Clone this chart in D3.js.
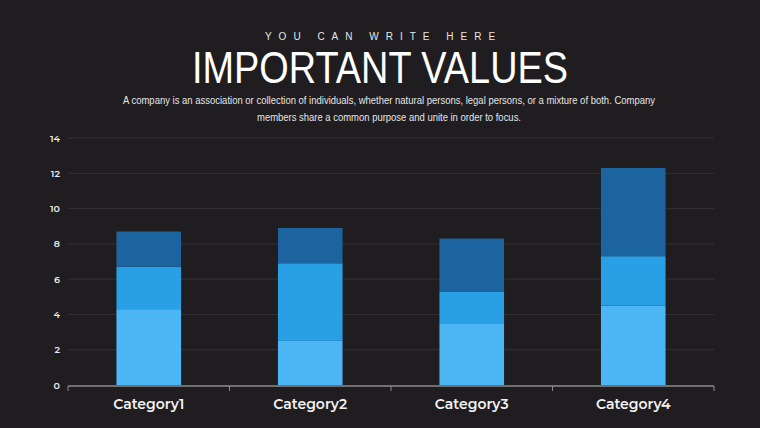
<!DOCTYPE html>
<html>
<head>
<meta charset="utf-8">
<script src="https://cdn.jsdelivr.net/npm/d3@7"></script>
<style>
	html, body { margin: 0; padding: 0; background: #1f1d20; }
	#chart { width: 760px; height: 428px; }
</style>
</head>
<body>
<div id="chart"></div>
<script>
// Datos del gráfico
const categories = ['Category1', 'Category2', 'Category3', 'Category4'];
const seriesNames = ['Series1', 'Series2', 'Series3'];
const series1 = [4.3, 2.5, 3.5, 4.5];
const series2 = [2.4, 4.4, 1.8, 2.8];
const series3 = [2.0, 2.0, 3.0, 5.0];
const yTicks = [0, 2, 4, 6, 8, 10, 12, 14];
const colors = ['#4db6f4', '#29a0e6', '#1b64a0'];

const W = 760;
const H = 428;
const margin = { top: 138, right: 46, bottom: 43, left: 68 };
const width = W - margin.left - margin.right;
const height = H - margin.top - margin.bottom;

const root = d3
	.select('#chart')
	.append('svg')
	.attr('width', W)
	.attr('height', H);

root.append('rect').attr('width', W).attr('height', H).attr('fill', '#1f1d20');

// Encabezado
root
	.append('text')
	.attr('x', 383.5)
	.attr('y', 40)
	.attr('text-anchor', 'middle')
	.attr('fill', '#e6e6e6')
	.style('font-family', 'Liberation Sans, Arial, sans-serif')
	.style('font-size', '10px')
	.style('letter-spacing', '7px')
	.text('YOU CAN WRITE HERE');

root
	.append('text')
	.attr('x', 380)
	.attr('y', 83)
	.attr('text-anchor', 'middle')
	.attr('fill', '#ffffff')
	.attr('textLength', 376)
	.attr('lengthAdjust', 'spacingAndGlyphs')
	.style('font-family', 'Liberation Sans Narrow, Liberation Sans, Arial, sans-serif')
	.style('font-size', '44px')
	.text('IMPORTANT VALUES');

const desc = [
	{ t: 'A company is an association or collection of individuals, whether natural persons, legal persons, or a mixture of both. Company', y: 104, w: 532 },
	{ t: 'members share a common purpose and unite in order to focus.', y: 121, w: 264 },
];
root
	.selectAll('text.desc')
	.data(desc)
	.enter()
	.append('text')
	.attr('class', 'desc')
	.attr('x', 389)
	.attr('y', (d) => d.y)
	.attr('text-anchor', 'middle')
	.attr('fill', '#e6e6e6')
	.attr('textLength', (d) => d.w)
	.attr('lengthAdjust', 'spacingAndGlyphs')
	.style('font-family', 'Liberation Sans Narrow, Liberation Sans, Arial, sans-serif')
	.style('font-size', '10.5px')
	.text((d) => d.t);

const svg = root.append('g').attr('transform', `translate(${margin.left},${margin.top})`);

// Escalas
const x = d3.scaleBand().domain(categories).range([0, width]).paddingInner(0.6).paddingOuter(0.3);
const y = d3.scaleLinear().domain([0, 14]).range([height, 0]);

// Líneas de la cuadrícula
svg
	.selectAll('line.grid')
	.data(yTicks.filter((d) => d > 0))
	.enter()
	.append('line')
	.attr('class', 'grid')
	.attr('x1', 0)
	.attr('x2', width)
	.attr('y1', (d) => y(d))
	.attr('y2', (d) => y(d))
	.attr('stroke', '#343236')
	.attr('stroke-width', 1);

// Barras apiladas
const table = categories.map((c, i) => ({
	category: c,
	Series1: series1[i],
	Series2: series2[i],
	Series3: series3[i],
}));
const stacked = d3.stack().keys(seriesNames)(table);

svg
	.selectAll('g.layer')
	.data(stacked)
	.enter()
	.append('g')
	.attr('class', 'layer')
	.attr('fill', (d, i) => colors[i])
	.selectAll('rect')
	.data((d) => d)
	.enter()
	.append('rect')
	.attr('x', (d) => x(d.data.category))
	.attr('y', (d) => y(d[1]))
	.attr('width', x.bandwidth())
	.attr('height', (d) => y(d[0]) - y(d[1]));

// Eje Y (solo etiquetas)
const yAxis = svg
	.append('g')
	.attr('transform', 'translate(-8,0)')
	.call(d3.axisLeft(y).tickValues(yTicks).tickSize(0).tickPadding(0));
yAxis.select('.domain').remove();
yAxis
	.selectAll('text')
	.attr('fill', '#e8e8e8')
	.style('font-family', 'Montserrat, Open Sans, sans-serif')
	.style('font-weight', '600')
	.style('font-size', '9.5px');

// Eje X
const xEdges = d3.scaleLinear().domain([0, categories.length]).range([0, width]);
const xAxis = svg.append('g').attr('transform', `translate(0,${height + 1})`);
xAxis
	.append('line')
	.attr('x1', 0)
	.attr('x2', width)
	.attr('stroke', '#8c8c8c')
	.attr('stroke-width', 1.5);
xAxis
	.selectAll('line.tick')
	.data(d3.range(categories.length + 1))
	.enter()
	.append('line')
	.attr('class', 'tick')
	.attr('x1', (d) => xEdges(d))
	.attr('x2', (d) => xEdges(d))
	.attr('y1', 0)
	.attr('y2', 5)
	.attr('stroke', '#8c8c8c');
xAxis
	.selectAll('text')
	.data(categories)
	.enter()
	.append('text')
	.attr('x', (d) => x(d) + x.bandwidth() / 2)
	.attr('y', 23)
	.attr('text-anchor', 'middle')
	.attr('fill', '#f2f2f2')
	.style('font-family', 'Montserrat, Open Sans, sans-serif')
	.style('font-weight', '600')
	.style('font-size', '14px')
	.text((d) => d);
</script>
</body>
</html>
